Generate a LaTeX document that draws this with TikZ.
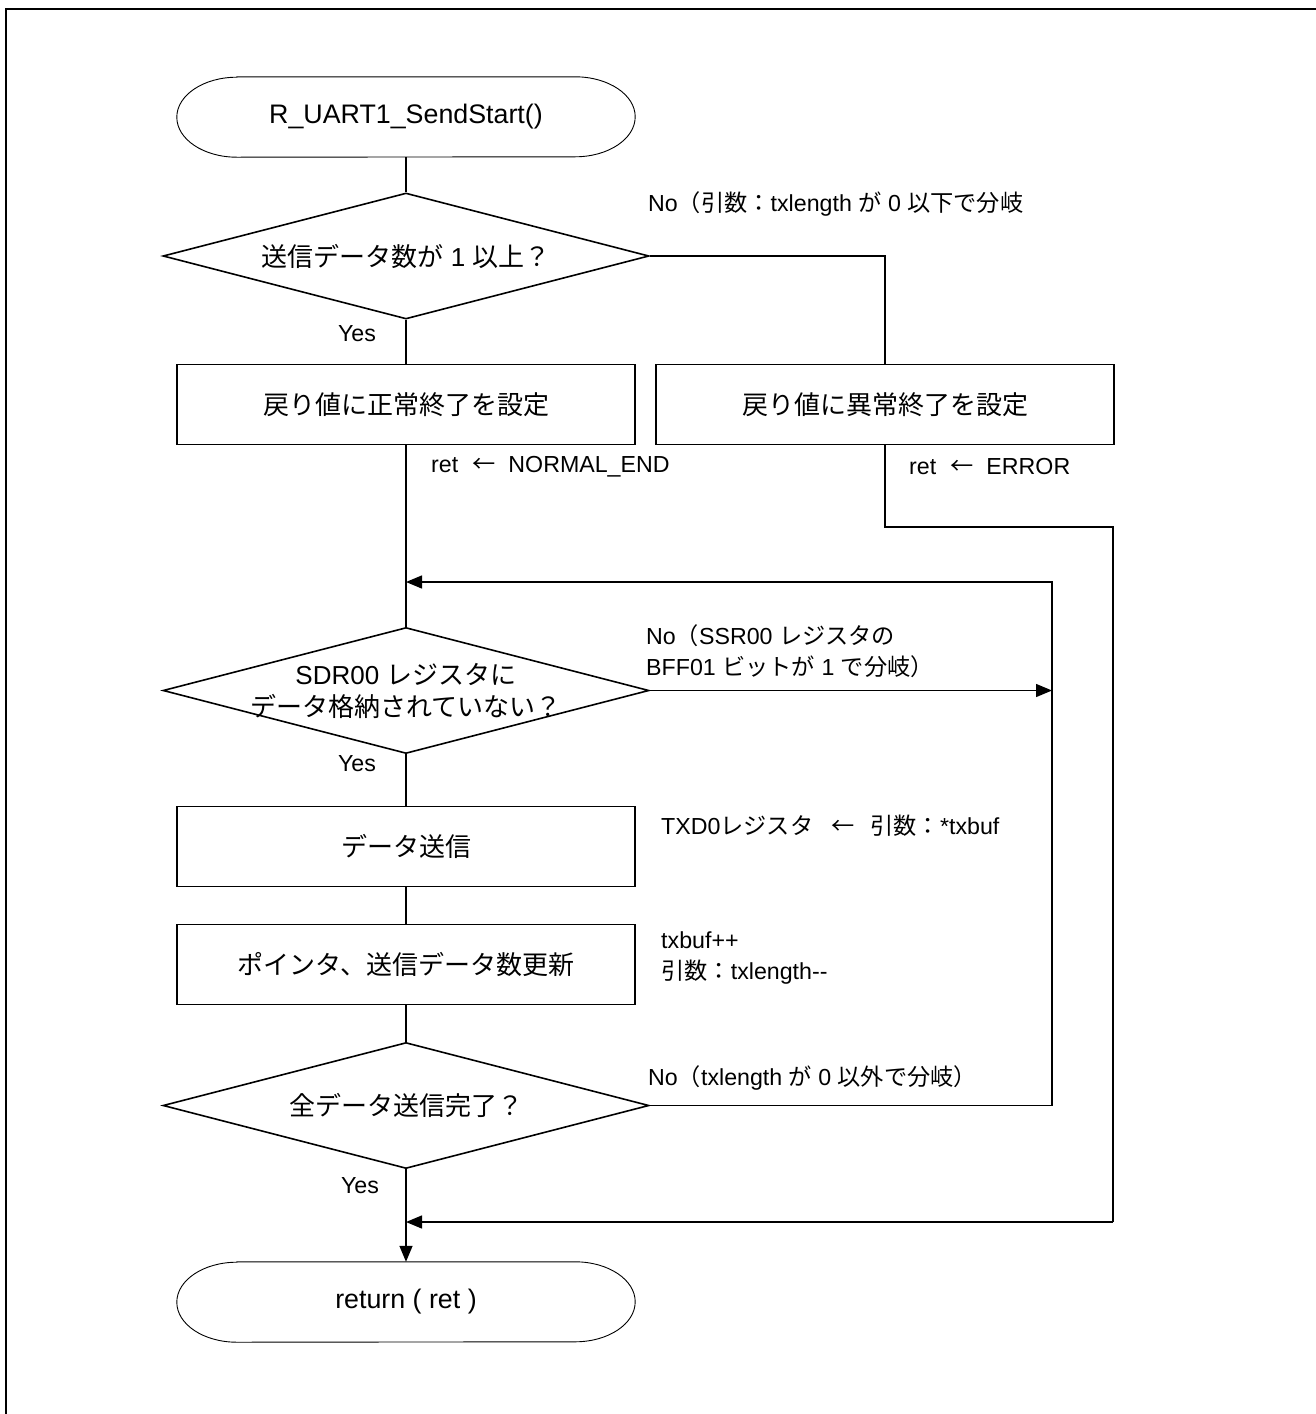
\documentclass[tikz,border=0pt]{standalone}
\usepackage{fontspec}
\setmainfont{Liberation Sans}
\newfontfamily\jpfont{Noto Sans CJK JP}
\newcommand\J[1]{{\jpfont #1}}
\usetikzlibrary{shapes.geometric,arrows.meta}

% stadium outline with elliptical end caps around a terminal node
\newcommand\stadium[1]{%
  \draw[termline] ([xshift=60pt]#1.north west) -- ([xshift=-60pt]#1.north east)
    arc[start angle=90,end angle=-90,x radius=60pt,y radius=40pt]
    -- ([xshift=60pt]#1.south west)
    arc[start angle=270,end angle=90,x radius=60pt,y radius=40pt] -- cycle;}

\tikzset{
  frameline/.style={line width=2.7pt},
  termline/.style={line width=0.9pt},
  terminal/.style={rectangle,minimum width=458pt,minimum height=80pt,inner sep=0pt,
    font=\fontsize{26.8}{32}\selectfont},
  procbox/.style={rectangle,draw,line width=1.6pt,minimum width=458pt,minimum height=80pt,
    inner sep=0pt,font=\fontsize{26}{32}\selectfont},
  decision/.style={diamond,draw,line width=1.6pt,minimum width=486pt,minimum height=126pt,
    inner sep=0pt},
  dtext/.style={align=center,inner sep=0pt,font=\fontsize{26}{33}\selectfont},
  lbl/.style={anchor=west,align=left,inner sep=0pt,font=\fontsize{23.2}{31}\selectfont},
  conn/.style={line width=1.4pt},
  arr/.style={conn,-{Triangle[length=16pt,width=13pt]}},
}

\begin{document}
\begin{tikzpicture}[x=1pt,y=-1pt]
\useasboundingbox (0,0) rectangle (1316,1414);

% page frame (top and left edges)
\draw[frameline] (6,1420) -- (6,9) -- (1320,9);

% nodes
\node[terminal] (start) at (406,117) {R\_UART1\_SendStart()};
\stadium{start}

\node[decision] (d1) at (406,256) {};
\node[dtext] (d1t) at (d1.center) {\J{送信データ数が} 1 \J{以上？}};

\node[procbox] (b1) at (406,404.5) {\J{戻り値に正常終了を設定}};
\node[procbox] (b2) at (885,404.5) {\J{戻り値に異常終了を設定}};

\node[decision] (d2) at (406,690.5) {};
\node[dtext] (d2t) at (d2.center) {SDR00 \J{レジスタに}\\[-1pt]\J{データ格納されていない？}};

\node[procbox] (b3) at (406,846.5) {\J{データ送信}};
\node[procbox] (b4) at (406,964.5) {\J{ポインタ、送信データ数更新}};

\node[decision] (d3) at (406,1105.5) {};
\node[dtext] (d3t) at (d3.center) {\J{全データ送信完了？}};

\node[terminal] (end) at (406,1302) {return ( ret )};
\stadium{end}

% labels
\node[lbl] (n1) at (648,204) {No\J{（引数：}txlength \J{が} 0 \J{以下で分岐}};
\node[lbl,anchor=center] (y1) at (357,334) {Yes};
\node[lbl] (r1) at (431,467) {ret\hspace{14pt}\J{←}\hspace{13pt}NORMAL\_END};
\node[lbl] (r2) at (909,467) {ret\hspace{14pt}\J{←}\hspace{13pt}ERROR};
\node[lbl] (n2) at (646,651) {No\J{（}SSR00 \J{レジスタの}\\BFF01 \J{ビットが} 1 \J{で分岐）}};
\node[lbl,anchor=center] (y2) at (357,764) {Yes};
\node[lbl] (tx) at (661,826) {TXD0\J{レジスタ}\hspace{18pt}\J{←}\hspace{16pt}\J{引数：}*txbuf};
\node[lbl] (up) at (661,958) {txbuf++\\\J{引数：}txlength-{}-};
\node[lbl] (n3) at (648,1078) {No\J{（}txlength \J{が} 0 \J{以外で分岐）}};
\node[lbl,anchor=center] (y3) at (360,1186) {Yes};

% junction points of the connectors
\coordinate (e1) at (885,527);
\coordinate (e2) at (1113,1222);
\coordinate (j2) at (406,1222);
\coordinate (rt) at (1052,582);
\coordinate (j1) at (406,582);
\coordinate (m2) at (1052,690.5);

% connectors
\draw[conn] (start.south) -- (d1.north);
\draw[conn] (d1.south) -- (b1.north);
\draw[conn] (d1.east) -| (b2.north);
\draw[conn] (b1.south) -- (d2.north);
\draw[conn] (b2.south) |- (e1) -| (e2);
\draw[arr] (e2) -- (j2);
\draw[arr] (d2.east) -- (m2);
\draw[conn] (d2.south) -- (b3.north);
\draw[conn] (b3.south) -- (b4.north);
\draw[conn] (b4.south) -- (d3.north);
\draw[arr] (d3.east) -| (rt) -- (j1);
\draw[arr] (d3.south) -- (end.north);
\end{tikzpicture}
\end{document}
